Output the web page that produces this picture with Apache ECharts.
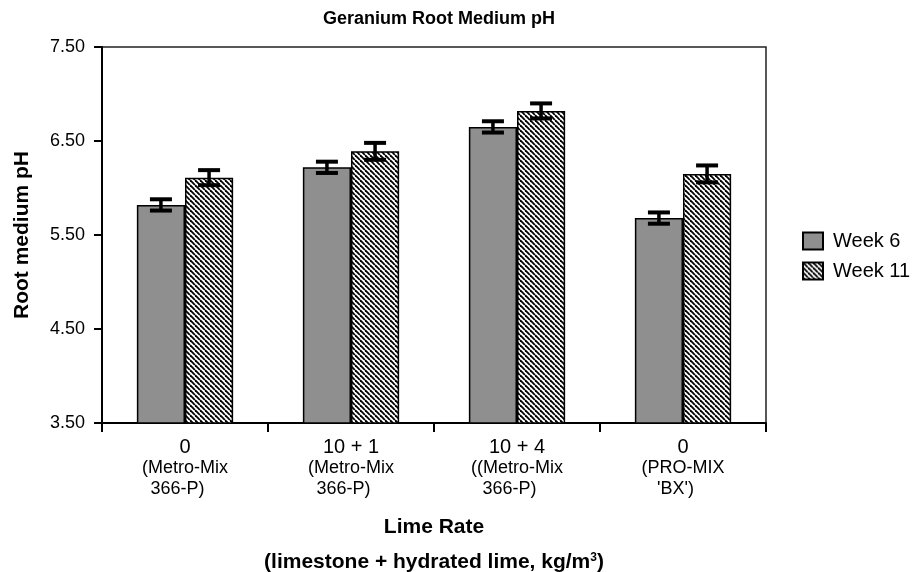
<!DOCTYPE html>
<html>
<head>
<meta charset="utf-8">
<title>Geranium Root Medium pH</title>
<script src="https://cdn.jsdelivr.net/npm/echarts@6/dist/echarts.min.js"></script>
<style>
  html, body { margin: 0; padding: 0; background: #fff; }
  #chart { width: 924px; height: 572px; }
</style>
</head>
<body>
<div id="chart"></div>
<script>
// values
const categories = [
  '{a|0}\n(Metro-Mix\n366-P)   ',
  '{a|10 + 1}\n(Metro-Mix\n366-P)   ',
  '{a|10 + 4}\n((Metro-Mix\n366-P)   ',
  '{a|0}\n(PRO-MIX\n\'BX\')   '
]
const week6 = [5.82, 6.22, 6.65, 5.68]
const week6Err = [0.06, 0.06, 0.06, 0.06]
const week11 = [6.11, 6.39, 6.82, 6.15]
const week11Err = [0.08, 0.09, 0.08, 0.09]
const yTicks = [3.5, 4.5, 5.5, 6.5, 7.5]

const FONT = '"Liberation Sans", Arial, sans-serif'

// diagonal hatch fill for week 11
const makeHatch = () => {
  const s = 5
  const c = document.createElement('canvas')
  c.width = s
  c.height = s
  const ctx = c.getContext('2d')
  ctx.fillStyle = '#fff'
  ctx.fillRect(0, 0, s, s)
  ctx.strokeStyle = '#000'
  ctx.lineWidth = 1.8
  for (let k = -1; k <= 1; k++) {
    ctx.beginPath()
    ctx.moveTo(k * s, 0)
    ctx.lineTo(k * s + s, s)
    ctx.stroke()
  }
  return c
}
const hatch = { image: makeHatch(), repeat: 'repeat' }

const BAR_FRAC = 0.29

// error bar drawn for one series, shifted left or right of the category centre
const errorBar = (values, errs, side) => (params, api) => {
  const i = api.value(0)
  const band = api.size([1, 0])[0]
  const x = api.coord([i, 0])[0] + side * band * BAR_FRAC / 2
  const hi = api.coord([i, values[i] + errs[i]])[1]
  const lo = api.coord([i, values[i] - errs[i]])[1]
  const half = 11
  const cap = { stroke: '#000', lineWidth: 4 }
  return {
    type: 'group',
    children: [
      { type: 'line', shape: { x1: x, y1: hi, x2: x, y2: lo }, style: { stroke: '#000', lineWidth: 3.5 } },
      { type: 'line', shape: { x1: x - half, y1: hi, x2: x + half, y2: hi }, style: cap },
      { type: 'line', shape: { x1: x - half, y1: lo, x2: x + half, y2: lo }, style: cap }
    ]
  }
}

const chart = echarts.init(document.getElementById('chart'))

const option = {
  backgroundColor: '#fff',
  animation: false,
  textStyle: { fontFamily: FONT },
  title: {
    text: 'Geranium Root Medium pH',
    left: 434,
    textAlign: 'center',
    top: 5,
    textStyle: { fontFamily: FONT, fontSize: 18, fontWeight: 'bold', color: '#000' }
  },
  legend: {
    orient: 'vertical',
    left: 797,
    top: 226,
    icon: 'rect',
    itemWidth: 20,
    itemHeight: 17,
    itemGap: 10,
    textStyle: { fontFamily: FONT, fontSize: 20, color: '#000', padding: [0, 0, 0, 5] },
    data: ['Week 6', 'Week 11']
  },
  grid: {
    left: 102,
    right: 158,
    top: 47,
    bottom: 149,
    show: true,
    borderColor: '#222',
    borderWidth: 1.5
  },
  xAxis: {
    type: 'category',
    data: categories,
    axisLine: { lineStyle: { color: '#000', width: 2 } },
    axisTick: { show: true, length: 9, lineStyle: { color: '#000', width: 2 } },
    axisLabel: {
      margin: 14,
      color: '#000',
      fontFamily: FONT,
      fontSize: 18,
      lineHeight: 21,
      rich: { a: { fontSize: 20, lineHeight: 21, fontFamily: FONT, color: '#000' } }
    }
  },
  yAxis: {
    type: 'value',
    min: 3.5,
    max: 7.5,
    name: 'Root medium pH',
    nameLocation: 'middle',
    nameGap: 69,
    nameTextStyle: { fontFamily: FONT, fontSize: 21, fontWeight: 'bold', color: '#000' },
    splitLine: { show: false },
    axisLine: { show: true, lineStyle: { color: '#000', width: 2 } },
    axisTick: { show: true, length: 8, customValues: yTicks, lineStyle: { color: '#000', width: 2 } },
    axisLabel: {
      customValues: yTicks,
      margin: 17,
      color: '#000',
      fontFamily: FONT,
      fontSize: 18,
      formatter: v => v.toFixed(2)
    }
  },
  graphic: [
    {
      type: 'text',
      x: 434,
      y: 527,
      style: { text: 'Lime Rate', fill: '#000', font: 'bold 21px ' + FONT, textAlign: 'center', textVerticalAlign: 'middle' }
    },
    {
      type: 'text',
      x: 434,
      y: 562,
      style: {
        text: '(limestone + hydrated lime, kg/m{s|3})',
        fill: '#000',
        font: 'bold 21px ' + FONT,
        textAlign: 'center',
        textVerticalAlign: 'middle',
        rich: { s: { fontSize: 12, fontWeight: 'bold', fontFamily: FONT, verticalAlign: 'top', padding: [0, 0, 8, 0] } }
      }
    }
  ],
  series: [
    {
      name: 'Week 6',
      type: 'bar',
      data: week6,
      barWidth: '29%',
      barGap: '0%',
      itemStyle: { color: '#8f8f8f', borderColor: '#000', borderWidth: 1.5 }
    },
    {
      name: 'Week 11',
      type: 'bar',
      data: week11,
      barWidth: '29%',
      barGap: '0%',
      itemStyle: { color: hatch, borderColor: '#000', borderWidth: 1.5 }
    },
    {
      type: 'custom',
      name: 'err6',
      data: week6.map((v, i) => [i, v]),
      renderItem: errorBar(week6, week6Err, -1),
      z: 10
    },
    {
      type: 'custom',
      name: 'err11',
      data: week11.map((v, i) => [i, v]),
      renderItem: errorBar(week11, week11Err, 1),
      z: 10
    }
  ]
}

chart.setOption(option)
</script>
</body>
</html>
